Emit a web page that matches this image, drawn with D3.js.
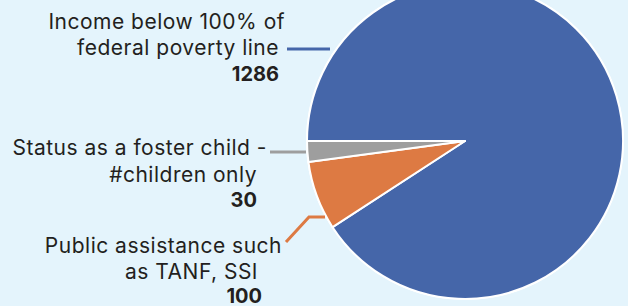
<!DOCTYPE html>
<html>
<head>
<meta charset="utf-8">
<script src="https://cdn.jsdelivr.net/npm/d3@7"></script>
<style>
  html, body { margin: 0; padding: 0; background: #e4f4fc; }
  svg { display: block; }
  text { font-family: "Inter", "Open Sans", sans-serif; fill: #231f20; }
</style>
</head>
<body>
<div id="chart"></div>
<script>
// Data
const categories = [
  "Income below 100% of federal poverty line",
  "Public assistance such as TANF, SSI",
  "Status as a foster child - #children only"
];
const values = [1286, 100, 30];
const labelLines = [
  ["Income below 100% of", "federal poverty line"],
  ["Public assistance such", "as TANF, SSI"],
  ["Status as a foster child -", "#children only"]
];
const colors = ["#4566a9", "#dd7a43", "#9e9e9e"];

// Layout for labels (text line ends + baselines) and leader lines
const labelLayout = [
  { ends: [285, 279, 279], ys: [29, 55, 81], leader: [[287, 49], [330, 49]] },
  { ends: [282, 258, 262], ys: [253, 279, 303], leader: [[286, 242], [309, 217], [325, 217]] },
  { ends: [267, 257, 257], ys: [155, 182, 207], leader: [[270, 152], [306, 152]] }
];

const width = 628, height = 306;
const cx = 465, cy = 141, radius = 158;

const svg = d3.select("#chart").append("svg")
  .attr("width", width)
  .attr("height", height);

const data = categories.map((c, i) => ({ name: c, value: values[i], lines: labelLines[i], color: colors[i], layout: labelLayout[i] }));

const pie = d3.pie()
  .sort(null)
  .value(d => d.value)
  .startAngle(-Math.PI / 2)
  .endAngle(3 * Math.PI / 2);

const arc = d3.arc().innerRadius(0).outerRadius(radius);

const g = svg.append("g").attr("transform", `translate(${cx},${cy})`);

// outer white ring
g.append("circle")
  .attr("r", radius + 1)
  .attr("fill", "white");

g.selectAll("path.slice")
  .data(pie(data))
  .enter()
  .append("path")
  .attr("class", "slice")
  .attr("d", arc)
  .attr("fill", d => d.data.color)
  .attr("stroke", "white")
  .attr("stroke-width", 2)
  .attr("stroke-linejoin", "round");

// Leader lines
svg.selectAll("polyline.leader")
  .data(data)
  .enter()
  .append("polyline")
  .attr("class", "leader")
  .attr("points", d => d.layout.leader.map(p => p.join(",")).join(" "))
  .attr("fill", "none")
  .attr("stroke", d => d.color)
  .attr("stroke-width", 3);

// Labels
const labels = svg.selectAll("g.label")
  .data(data)
  .enter()
  .append("g")
  .attr("class", "label");

labels.each(function (d) {
  const sel = d3.select(this);
  d.lines.forEach((line, i) => {
    sel.append("text")
      .attr("x", d.layout.ends[i])
      .attr("y", d.layout.ys[i])
      .attr("text-anchor", "end")
      .style("font-size", "21px")
      .style("letter-spacing", "0.5px")
      .style("font-weight", 400)
      .text(line);
  });
  sel.append("text")
    .attr("x", d.layout.ends[2])
    .attr("y", d.layout.ys[2])
    .attr("text-anchor", "end")
    .style("font-size", "20px")
    .style("font-weight", 700)
    .text(d3.format("d")(d.value));
});
</script>
</body>
</html>
